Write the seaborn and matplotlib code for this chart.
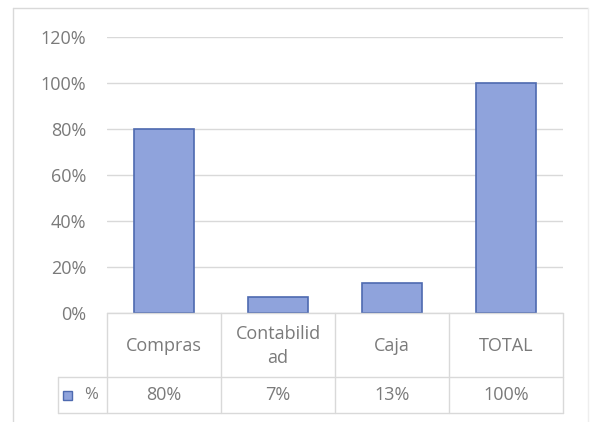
import matplotlib
matplotlib.use("Agg")
import matplotlib.pyplot as plt
import matplotlib.transforms as mtransforms
from matplotlib.lines import Line2D
from matplotlib.patches import Rectangle
import seaborn as sns
import pandas as pd

# Share of each area
categories = ["Compras", "Contabilidad", "Caja", "TOTAL"]
header_labels = ["Compras", "Contabilid\nad", "Caja", "TOTAL"]
values = [0.80, 0.07, 0.13, 1.00]
value_labels = ["80%", "7%", "13%", "100%"]
series_name = "%"
y_ticks = [0.0, 0.2, 0.4, 0.6, 0.8, 1.0, 1.2]
y_tick_labels = ["0%", "20%", "40%", "60%", "80%", "100%", "120%"]

sns.set_theme(style="white")
plt.rcParams["font.family"] = ["Open Sans", "DejaVu Sans"]

W, H = 590, 422
fig = plt.figure(figsize=(W / 100, H / 100), dpi=100)
fig.patch.set_facecolor("white")

def fx(px):
    return px / W

def fy(py):
    return 1 - py / H

left_px, right_px = 107, 563
top_px, zero_px = 37, 313
ax = fig.add_axes([fx(left_px), fy(zero_px), fx(right_px) - fx(left_px), fy(top_px) - fy(zero_px)])

df = pd.DataFrame({"area": categories, "pct": values})
sns.barplot(data=df, x="area", y="pct", ax=ax, color="#8FA3DC",
            edgecolor="#4E6AB0", linewidth=1.2, width=0.53, saturation=1)

text_color = "#7A7A7A"
grid_color = "#D9D9D9"
fs = 13

ax.set_xlim(-0.5, len(categories) - 0.5)
ax.set_ylim(0, 1.2)
ax.set_yticks(y_ticks)
ax.set_yticklabels(y_tick_labels, color=text_color, fontsize=fs)
ax.tick_params(axis="y", length=0, pad=15)
ax.set_xticks([])
ax.set_xlabel("")
ax.set_ylabel("")
ax.yaxis.grid(True, color=grid_color, linewidth=1)
ax.set_axisbelow(True)
for s in ax.spines.values():
    s.set_visible(False)

# Data table below the plot: lines in figure coordinates, columns from data x
trans = mtransforms.blended_transform_factory(ax.transData, fig.transFigure)
row1_px, row2_px, table_bottom_px = 313, 377, 413
legend_left_px = 58
n = len(categories)

fig.add_artist(Line2D([fx(left_px), fx(right_px)], [fy(row1_px)] * 2, color=grid_color, lw=1))
for ypx in (row2_px, table_bottom_px):
    fig.add_artist(Line2D([fx(legend_left_px), fx(right_px)], [fy(ypx)] * 2, color=grid_color, lw=1))
for i in range(n + 1):
    ax.add_line(Line2D([i - 0.5, i - 0.5], [fy(row1_px), fy(table_bottom_px)], transform=trans,
                       color=grid_color, lw=1, clip_on=False))
fig.add_artist(Line2D([fx(legend_left_px)] * 2, [fy(row2_px), fy(table_bottom_px)], color=grid_color, lw=1))

for i, (hdr, val) in enumerate(zip(header_labels, value_labels)):
    ax.text(i, fy((row1_px + row2_px) / 2 + 1), hdr, transform=trans, ha="center", va="center",
            color=text_color, fontsize=fs, linespacing=1.4)
    ax.text(i, fy((row2_px + table_bottom_px) / 2), val, transform=trans, ha="center", va="center",
            color=text_color, fontsize=fs)

# Legend key in the value row
fig.add_artist(Rectangle((fx(63), fy(400)), fx(9), fy(391) - fy(400), facecolor="#8FA3DC",
                         edgecolor="#4E6AB0", lw=1.0))
fig.text(fx(84), fy((row2_px + table_bottom_px) / 2), series_name, ha="left", va="center",
         color=text_color, fontsize=fs - 1)

# Chart frame
frame_color = "#D9D9D9"
fig.add_artist(Line2D([fx(13), fx(588)], [fy(8), fy(8)], color=frame_color, lw=1))
fig.add_artist(Line2D([fx(13), fx(13)], [fy(8), fy(422)], color=frame_color, lw=1))
fig.add_artist(Line2D([fx(588), fx(588)], [fy(8), fy(422)], color="#EEEEEE", lw=1))

fig.savefig("out.png", dpi=100, facecolor="white")
